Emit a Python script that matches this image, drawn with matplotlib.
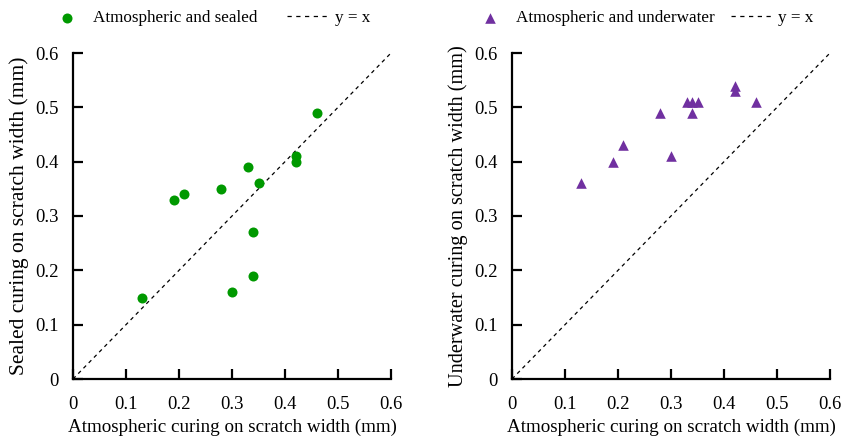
import matplotlib
matplotlib.use("Agg")
import matplotlib.pyplot as plt
import numpy as np

plt.rcParams['font.family'] = ['Liberation Serif', 'DejaVu Serif']

# scratch widths (mm)
atm_sealed = [0.13, 0.19, 0.21, 0.28, 0.33, 0.35, 0.42, 0.42, 0.46, 0.34, 0.34, 0.30]
sealed = [0.15, 0.33, 0.34, 0.35, 0.39, 0.36, 0.41, 0.40, 0.49, 0.27, 0.19, 0.16]

atm_water = [0.13, 0.19, 0.21, 0.30, 0.28, 0.33, 0.34, 0.35, 0.34, 0.42, 0.42, 0.46]
underwater = [0.36, 0.40, 0.43, 0.41, 0.49, 0.51, 0.51, 0.51, 0.49, 0.54, 0.53, 0.51]

ticks = [0, 0.1, 0.2, 0.3, 0.4, 0.5, 0.6]
tick_labels = ['0', '0.1', '0.2', '0.3', '0.4', '0.5', '0.6']

fig = plt.figure(figsize=(8.56, 4.41), dpi=100)
ax1 = fig.add_axes([73/856, 62/441, 318/856, 326/441])
ax2 = fig.add_axes([512/856, 62/441, 318/856, 326/441])


def style(ax, ylabel, ysize):
    ax.set_xlim(0, 0.6)
    ax.set_ylim(0, 0.6)
    ax.set_xticks(ticks)
    ax.set_yticks(ticks)
    ax.set_xticklabels(tick_labels)
    ax.set_yticklabels(tick_labels)
    for s in ['top', 'right']:
        ax.spines[s].set_visible(False)
    for s in ['left', 'bottom']:
        ax.spines[s].set_linewidth(1.6)
    ax.tick_params(direction='in', length=7, width=1.6, labelsize=13.4, pad=10)
    ax.tick_params(axis='x', pad=12)
    ax.set_xlabel('Atmospheric curing on scratch width (mm)', fontsize=13.7, labelpad=4)
    ax.set_ylabel(ylabel, fontsize=ysize)
    ax.yaxis.set_label_coords(-0.138, 0.5)


ax1.scatter(atm_sealed, sealed, s=52, color='#009900', marker='o', linewidths=0,
            label='Atmospheric and sealed', zorder=3, clip_on=False)
ax1.plot([0, 0.6], [0, 0.6], 'k--', lw=0.9, dashes=(3, 3), label='y = x')
style(ax1, 'Sealed curing on scratch width (mm)', 15.5)

ax2.scatter(atm_water, underwater, s=58, color='#7030A0', marker='^', linewidths=0,
            label='Atmospheric and underwater', zorder=3, clip_on=False)
ax2.plot([0, 0.6], [0, 0.6], 'k--', lw=0.9, dashes=(3, 3), label='y = x')
style(ax2, 'Underwater curing on scratch width (mm)', 14.6)

# legends sit above each panel
for ax, x0, gap in ((ax1, 45.5, 1.76), (ax2, 468.5, 0.94)):
    leg = ax.legend(loc='center left', bbox_to_anchor=(x0/856, 1 - 18/441),
                    bbox_transform=fig.transFigure, ncol=2, frameon=False,
                    fontsize=12.3, handlelength=2.5, columnspacing=gap,
                    handletextpad=0.28, borderpad=0, borderaxespad=0)
    leg.get_lines()[0].set_dashes((3.4, 3.6))

fig.savefig('out.png', dpi=100)
